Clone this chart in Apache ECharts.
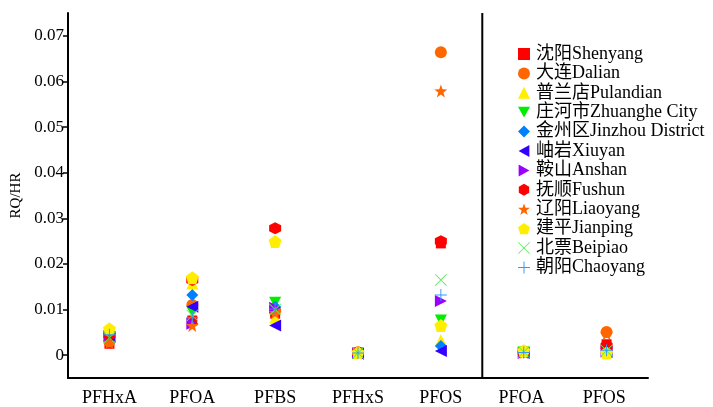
<!DOCTYPE html>
<html>
<head>
<meta charset="utf-8">
<script src="https://cdn.jsdelivr.net/npm/echarts@6/dist/echarts.min.js"></script>
<style>html,body{margin:0;padding:0;background:#fff}#c{width:713px;height:407px}</style>
</head>
<body>
<div id="c"></div>
<script>
var categories = ['PFHxA', 'PFOA', 'PFBS', 'PFHxS', 'PFOS', 'PFOA ', 'PFOS '];
var yTicks = [0, 0.01, 0.02, 0.03, 0.04, 0.05, 0.06, 0.07];
var dividerX = [4.5, 4.5];
var dividerY = [-0.005, 0.075];

var cities = ['沈阳Shenyang', '大连Dalian', '普兰店Pulandian', '庄河市Zhuanghe City', '金州区Jinzhou District', '岫岩Xiuyan', '鞍山Anshan', '抚顺Fushun', '辽阳Liaoyang', '建平Jianping', '北票Beipiao', '朝阳Chaoyang'];

// values per city across the 7 categories
var shenyang  = [0.0025, 0.0076, 0.0091, 0.0005, 0.0245, 0.0007, 0.0024];
var dalian    = [0.0030, 0.0110, 0.0098, 0.0006, 0.0664, 0.0008, 0.0051];
var pulandian = [0.0050, 0.0157, 0.0082, 0.0005, 0.0033, 0.0009, 0.0008];
var zhuanghe  = [0.0035, 0.0095, 0.0115, 0.0004, 0.0076, 0.0006, 0.0010];
var jinzhou   = [0.0040, 0.0132, 0.0106, 0.0004, 0.0020, 0.0007, 0.0009];
var xiuyan    = [0.0040, 0.0106, 0.0065, 0.0003, 0.0009, 0.0005, 0.0007];
var anshan    = [0.0042, 0.0069, 0.0104, 0.0004, 0.0119, 0.0005, 0.0008];
var fushun    = [0.0045, 0.0165, 0.0278, 0.0007, 0.0250, 0.0008, 0.0020];
var liaoyang  = [0.0028, 0.0065, 0.0093, 0.0005, 0.0579, 0.0006, 0.0047];
var jianping  = [0.0058, 0.0170, 0.0249, 0.0006, 0.0065, 0.0010, 0.0005];
var beipiao   = [0.0038, 0.0087, 0.0100, 0.0005, 0.0165, 0.0007, 0.0010];
var chaoyang  = [0.0045, 0.0082, 0.0101, 0.0005, 0.0132, 0.0006, 0.0011];

var seriesValues = [shenyang, dalian, pulandian, zhuanghe, jinzhou, xiuyan, anshan, fushun, liaoyang, jianping, beipiao, chaoyang];

var colors = ['#ff0000', '#ff6600', '#ffee00', '#00ee00', '#0080ff', '#3300ff', '#9900ff', '#ff0000', '#ff6600', '#ffee00', '#55ee55', '#3399ff'];
var symbols = [
  'rect',
  'circle',
  'triangle',
  'path://M0,0L10,0L5,9Z',
  'diamond',
  'path://M9,0L9,10L0,5Z',
  'path://M0,0L0,10L9,5Z',
  'path://M5,0L9.33,2.5L9.33,7.5L5,10L0.67,7.5L0.67,2.5Z',
  'path://M5,0L6.18,3.38L9.76,3.45L6.9,5.62L7.94,9.05L5,7L2.06,9.05L3.1,5.62L0.24,3.45L3.82,3.38Z',
  'path://M5,0L9.76,3.45L7.94,9.05L2.06,9.05L0.24,3.45Z',
  'path://M0,0.5L0.5,0L5,4.5L9.5,0L10,0.5L5.5,5L10,9.5L9.5,10L5,5.5L0.5,10L0,9.5L4.5,5Z',
  'path://M4.6,0H5.4V4.6H10V5.4H5.4V10H4.6V5.4H0V4.6H4.6Z'
];
var sizes = [10, 12, 12, 12, 12, 12, 12, 12, 13, 13, 12, 12];

var FONT = '"Liberation Serif", "Noto Sans CJK SC", serif';

var series = cities.map(function (name, i) {
  return {
    name: name,
    type: 'scatter',
    xAxisIndex: 0,
    yAxisIndex: 0,
    symbol: symbols[i],
    symbolSize: sizes[i],
    itemStyle: { color: colors[i], opacity: 1 },
    data: seriesValues[i].map(function (v, j) { return [categories[j], v]; }),
    z: 2
  };
});
series.push({
  type: 'line',
  xAxisIndex: 1,
  yAxisIndex: 0,
  symbol: 'none',
  silent: true,
  lineStyle: { color: '#000', width: 2 },
  data: dividerX.map(function (x, k) { return [x, dividerY[k]]; }),
  z: 1
});

var chart = echarts.init(document.getElementById('c'));
chart.setOption({
  animation: false,
  backgroundColor: '#fff',
  grid: { left: 68, right: 65, top: 13, bottom: 27 },
  legend: {
    data: cities,
    orient: 'vertical',
    left: 513,
    top: 40,
    itemWidth: 12,
    itemHeight: 12,
    itemGap: 1.4,
    textStyle: { fontFamily: FONT, fontSize: 18, color: '#000', lineHeight: 18, padding: [0, 0, 0, 1] }
  },
  xAxis: [{
    type: 'category',
    data: categories,
    boundaryGap: true,
    axisLine: { onZero: false, lineStyle: { color: '#000', width: 2 } },
    axisTick: { inside: true, alignWithLabel: true, length: 7, lineStyle: { color: '#000', width: 2 } },
    axisLabel: { fontFamily: FONT, fontSize: 18, color: '#000', margin: 11 },
    splitLine: { show: false }
  }, {
    type: 'value',
    min: -0.5,
    max: 6.5,
    show: false,
    axisLine: { onZero: false }
  }],
  yAxis: [{
    type: 'value',
    min: -0.005,
    max: 0.075,
    name: 'RQ/HR',
    nameLocation: 'middle',
    nameGap: 43,
    nameTextStyle: { fontFamily: FONT, fontSize: 15, color: '#000' },
    axisLine: { show: true, onZero: false, lineStyle: { color: '#000', width: 2 } },
    axisTick: { show: true, length: 5, customValues: yTicks, lineStyle: { color: '#000', width: 1.5 } },
    axisLabel: { fontFamily: FONT, fontSize: 17, color: '#000', margin: 4, customValues: yTicks,
      formatter: function (v) { return v === 0 ? '0' : String(+v.toFixed(2)); } },
    splitLine: { show: false }
  }],
  series: series
});
</script>
</body>
</html>
